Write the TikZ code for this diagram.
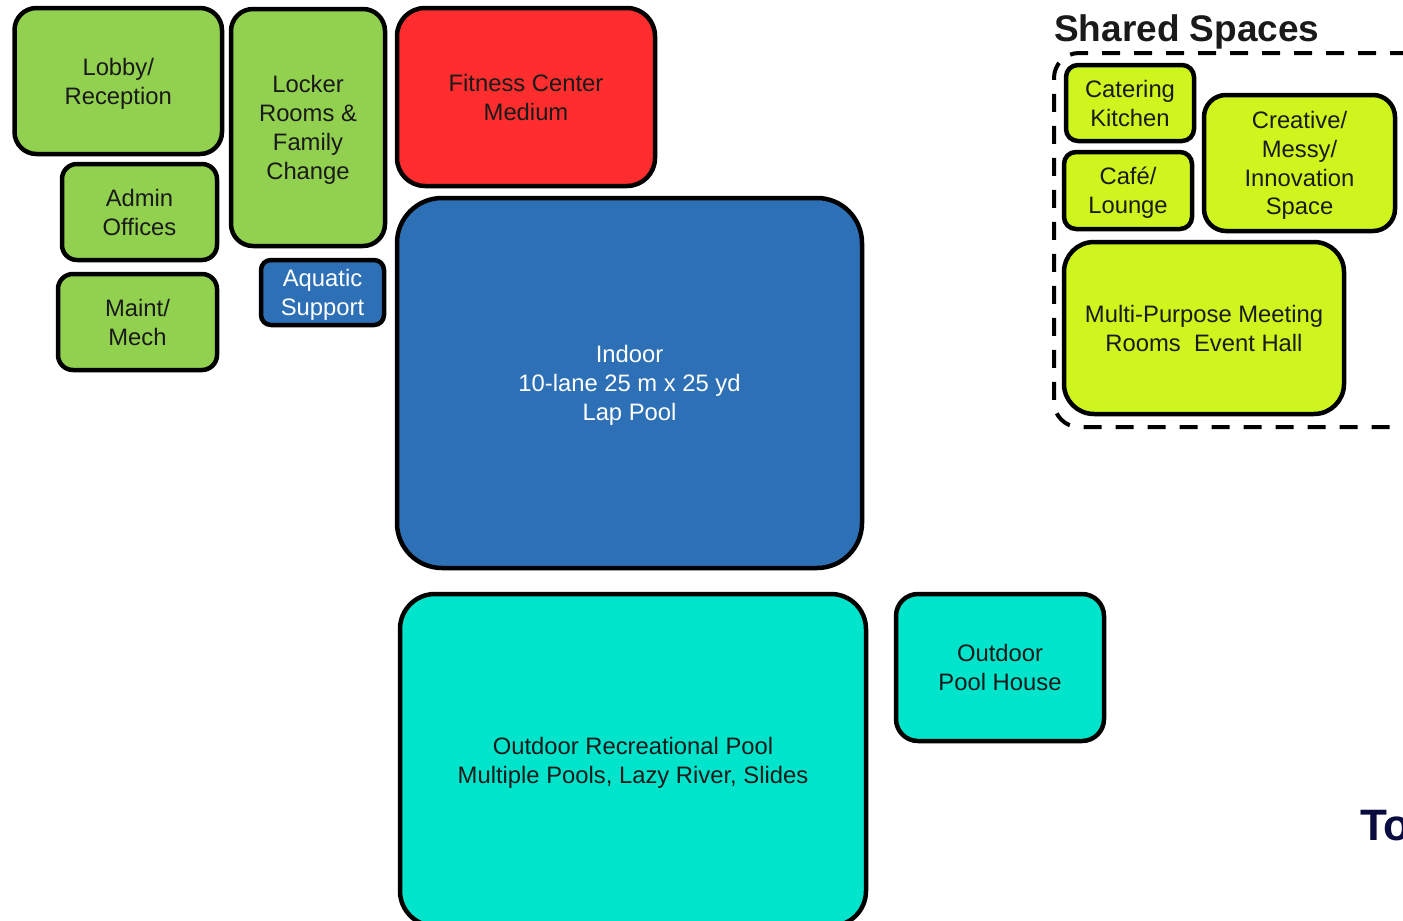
\documentclass[tikz,border=0pt]{standalone}
\usepackage{fontspec}
\setmainfont{Liberation Sans}
\definecolor{lgreen}{RGB}{146,208,80}
\definecolor{fred}{RGB}{255,45,45}
\definecolor{pblue}{RGB}{46,112,182}
\definecolor{teal}{RGB}{0,228,204}
\definecolor{lime}{RGB}{206,246,30}
\definecolor{ink}{RGB}{26,26,26}
\definecolor{navy}{RGB}{10,12,64}
\tikzset{
  room/.style={draw=black, line width=4.5pt, align=center, inner sep=0pt,
    text depth=0pt, font=\fontsize{23.8}{28.8}\selectfont, text=ink},
  greenroom/.style={room, fill=lgreen},
  limeroom/.style={room, fill=lime},
  tealroom/.style={room, fill=teal},
  blueroom/.style={room, fill=pblue, text=white},
}
\begin{document}
\begin{tikzpicture}[x=1pt,y=-1pt]
\useasboundingbox (0,0) rectangle (1403,921);
\clip (0,0) rectangle (1403,921);

% support spaces
\node[greenroom, minimum width=207.5pt, minimum height=146pt, rounded corners=22pt] (lobby) at (118.25,81) {Lobby/\\Reception};
\node[greenroom, minimum width=154pt, minimum height=237pt, rounded corners=22pt] (locker) at (308,127.5) {Locker\\Rooms \&\\Family\\Change};
\node[greenroom, minimum width=155pt, minimum height=96pt, rounded corners=15pt] (admin) at (139.5,212) {Admin\\Offices};
\node[greenroom, minimum width=159pt, minimum height=96pt, rounded corners=15pt] (maint) at (137.5,322) {Maint/\\Mech};
\node[blueroom, minimum width=123pt, minimum height=65pt, rounded corners=10pt] (aqsup) at (322.5,292.5) {Aquatic\\Support};

% fitness and pools
\node[room, fill=fred, minimum width=258pt, minimum height=178pt, rounded corners=28pt] (fitness) at (526,97) {Fitness Center\\Medium};
\node[blueroom, minimum width=465pt, minimum height=370pt, rounded corners=45pt] (indoor) at (629.5,383) {Indoor\\10-lane 25 m x 25 yd\\Lap Pool};
\node[tealroom, minimum width=466pt, minimum height=332pt, rounded corners=35pt] (outdoor) at (633,760) {Outdoor Recreational Pool\\Multiple Pools, Lazy River, Slides};
\node[tealroom, minimum width=208pt, minimum height=147pt, rounded corners=22pt] (poolhouse) at (1000,667.5) {Outdoor\\Pool House};

% shared spaces group
\node[font=\fontsize{37}{40}\selectfont\bfseries, text=ink, anchor=west, inner sep=0pt, text depth=0pt] (sharedtitle) at (1054,28) {Shared Spaces};
\draw[line width=4pt, dash pattern=on 18pt off 14pt, rounded corners=25pt]
  (1440,53) -- (1054,53) -- (1054,427) -- (1440,427);
\node[limeroom, minimum width=128pt, minimum height=76pt, rounded corners=12pt] (catering) at (1130,103) {Catering\\Kitchen};
\node[limeroom, minimum width=128pt, minimum height=77pt, rounded corners=12pt] (cafe) at (1128,190.5) {Café/\\Lounge};
\node[limeroom, minimum width=191pt, minimum height=136pt, rounded corners=22pt] (creative) at (1299.5,163) {Creative/\\Messy/\\Innovation\\Space};
\node[limeroom, minimum width=280pt, minimum height=172pt, rounded corners=30pt] (multi) at (1204,328) {Multi-Purpose Meeting\\Rooms\ \ Event Hall};

% heading running off the right edge
\node[font=\fontsize{44}{48}\selectfont\bfseries, text=navy, anchor=west, inner sep=0pt] (total) at (1360,826) {To};
\end{tikzpicture}
\end{document}
